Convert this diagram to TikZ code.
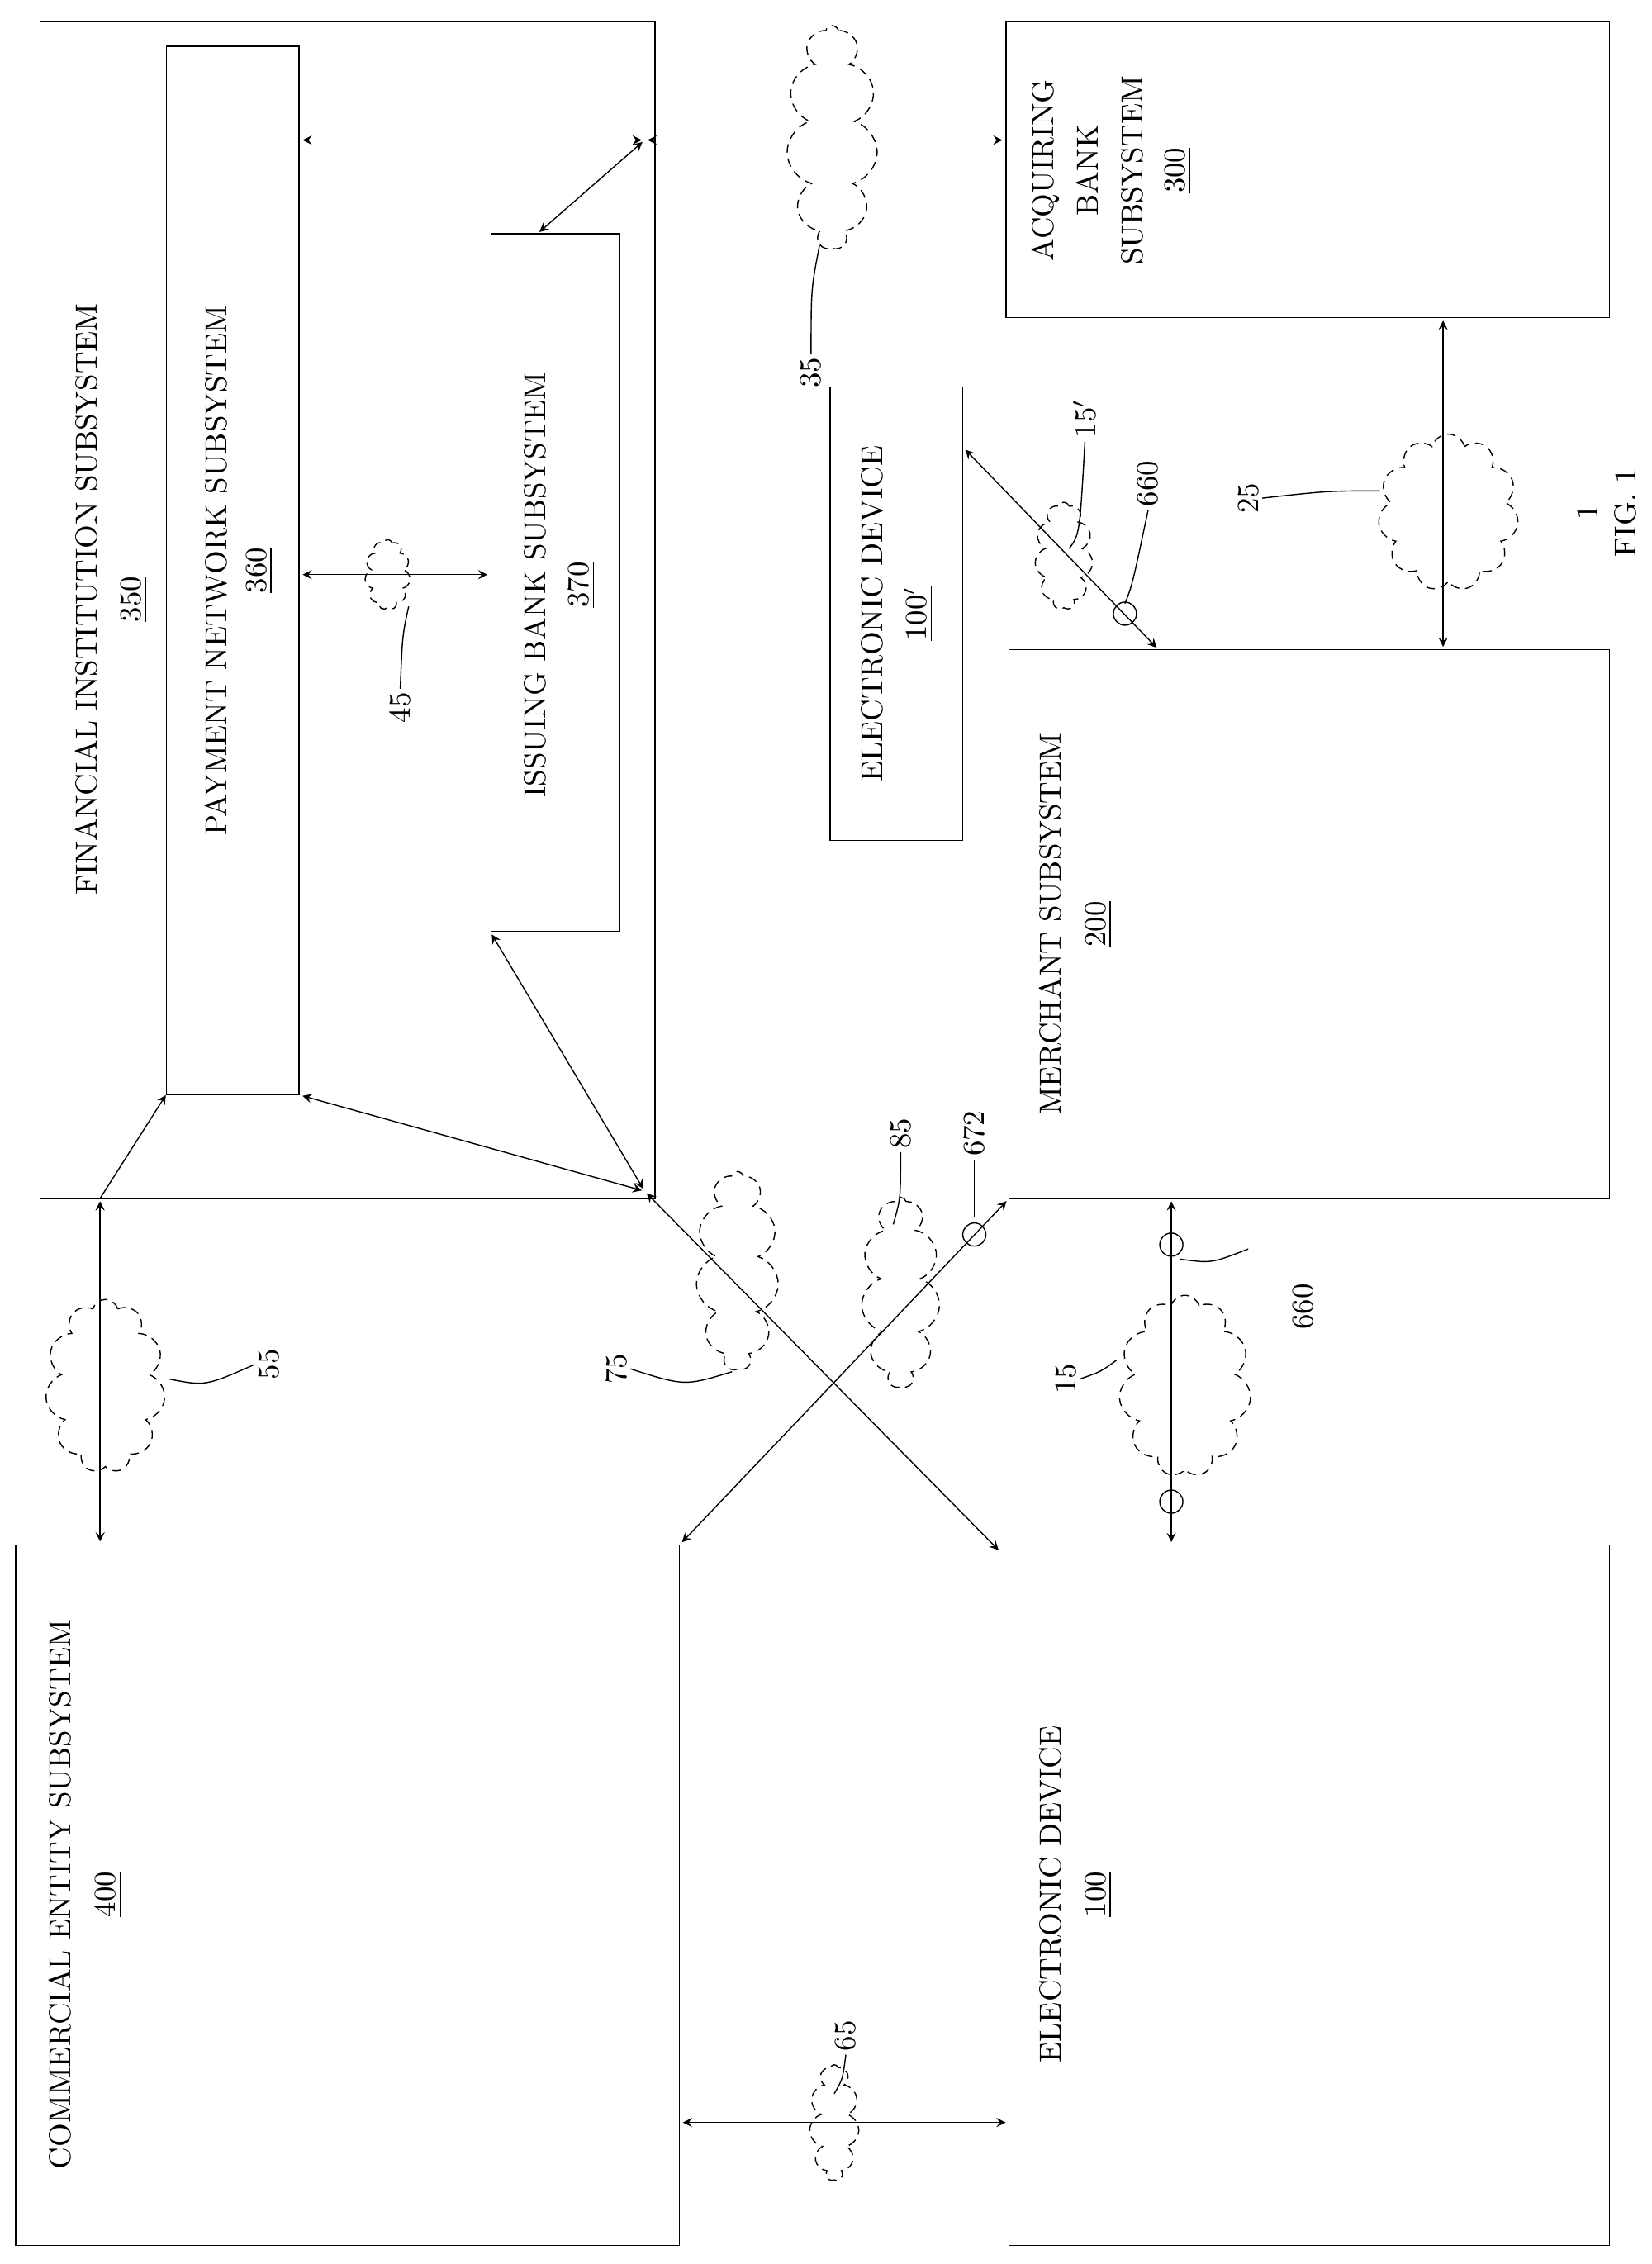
\documentclass[tikz,border=0pt]{standalone}
\usepackage{tikz}
\usetikzlibrary{fit,shapes.symbols}

\begin{document}
\begin{tikzpicture}[>=stealth, x=0.012761cm, y=-0.017481cm,
	box/.style={draw, thin, inner sep=0pt},
	txt/.style={rotate=90, font=\fontsize{10.5}{12}\selectfont},
	lbl/.style={rotate=90, font=\fontsize{10.5}{12}\selectfont, inner sep=1pt},
	link/.style={<->, thin, shorten >=1pt, shorten <=1pt},
	net/.style={cloud, cloud puffs=11, draw, densely dashed, thin, inner sep=0pt, aspect=0.5},
	ring/.style={circle, draw, thin, minimum size=0.28cm, inner sep=0pt}]
	\useasboundingbox (0,0) rectangle (1568,1568);

	% boxes
	\node[box, fit={(38,15)(622,830)}] (fi) {};
	\node[box, fit={(158,32)(284,758)}] (pn) {};
	\node[box, fit={(466,162)(588,645)}] (ib) {};
	\node[box, fit={(955,15)(1528,220)}] (acq) {};
	\node[box, fit={(788,268)(914,582)}] (edp) {};
	\node[box, fit={(958,450)(1528,830)}] (mer) {};
	\node[box, fit={(15,1070)(645,1555)}] (ce) {};
	\node[box, fit={(958,1070)(1528,1555)}] (ed) {};

	% box texts
	\node[txt] (t-fi) at (82,415) {FINANCIAL INSTITUTION SUBSYSTEM};
	\node[txt] (n-fi) at (127,415) {\underline{350}};
	\node[txt] (t-pn) at (205,395) {PAYMENT NETWORK SUBSYSTEM};
	\node[txt] (n-pn) at (246,395) {\underline{360}};
	\node[txt] (t-ib) at (508,405) {ISSUING BANK SUBSYSTEM};
	\node[txt] (n-ib) at (552,405) {\underline{370}};
	\node[txt] (t-acq1) at (993,118) {ACQUIRING};
	\node[txt] (t-acq2) at (1032,118) {BANK};
	\node[txt] (t-acq3) at (1075,118) {SUBSYSTEM};
	\node[txt] (n-acq) at (1118,118) {\underline{300}};
	\node[txt] (t-edp) at (828,425) {ELECTRONIC DEVICE};
	\node[txt] (n-edp) at (872,425) {\underline{100$'$}};
	\node[txt] (t-mer) at (997,640) {MERCHANT SUBSYSTEM};
	\node[txt] (n-mer) at (1043,640) {\underline{200}};
	\node[txt] (t-ce) at (57,1312) {COMMERCIAL ENTITY SUBSYSTEM};
	\node[txt] (n-ce) at (103,1312) {\underline{400}};
	\node[txt] (t-ed) at (997,1312) {ELECTRONIC DEVICE};
	\node[txt] (n-ed) at (1043,1312) {\underline{100}};

	% hubs
	\coordinate (h1) at (612,97);
	\coordinate (h2) at (612,825);
	\coordinate (h3) at (95,830);

	% clouds
	\node[net, minimum width=1.1cm, minimum height=2.7cm] (c35) at (790,95) {};
	\node[net, minimum width=0.55cm, minimum height=0.85cm] (c45) at (368,398) {};
	\node[net, minimum width=1.45cm, minimum height=2.1cm] (c55) at (100,960) {};
	\node[net, minimum width=1.0cm, minimum height=2.4cm] (c75) at (700,880) {};
	\node[net, minimum width=0.95cm, minimum height=2.3cm] (c85) at (855,895) {};
	\node[net, minimum width=1.6cm, minimum height=2.2cm] (c15) at (1125,960) {};
	\node[net, minimum width=1.7cm, minimum height=1.9cm] (c25) at (1375,355) {};
	\node[net, minimum width=0.7cm, minimum height=1.3cm] (c15p) at (1010,385) {};
	\node[net, minimum width=0.6cm, minimum height=1.4cm] (c65) at (792,1470) {};

	% connectors
	\draw[link] (pn.east |- h1) -- (h1);
	\draw[link] (h1) -- (acq.west |- h1);
	\draw[link] (h1) -- (510,162);
	\draw[link] (pn.east |- c45) -- (ib.west |- c45);
	\draw[link] (h3) -- (h3 |- ce.north);
	\draw[<-, thin] (pn.south west) -- (h3);
	\draw[link] (pn.south east) -- (h2);
	\draw[link] (ib.south west) -- (h2);
	\draw[link] (h2) -- (950,1075);
	\draw[link] (mer.south west) -- (ce.north east);
	\draw[link] (1112,830) -- (1112,1070);
	\draw[link] (1370,220) -- (1370,450);
	\draw[link] (edp.east |- 0,310) -- (1100,450);
	\draw[link] (ce.east |- c65) -- (ed.west |- c65);

	% rings
	\node[ring] (r672) at (925,855) {};
	\node[ring] (r660a) at (1112,862) {};
	\node[ring] (r660b) at (1112,1040) {};
	\node[ring] (r660c) at (1068,425) {};

	% reference labels
	\node[lbl] (l35) at (770,258) {35};
	\node[lbl] (l45) at (380,490) {45};
	\node[lbl] (l55) at (255,945) {55};
	\node[lbl] (l75) at (585,948) {75};
	\node[lbl] (l85) at (855,785) {85};
	\node[lbl] (l672) at (925,785) {672};
	\node[lbl] (l15) at (1012,955) {15};
	\node[lbl] (l660) at (1237,905) {660};
	\node[lbl] (l25) at (1185,345) {25};
	\node[lbl] (l15p) at (1030,290) {15$'$};
	\node[lbl] (l660p) at (1090,335) {660};
	\node[lbl] (l65) at (803,1410) {65};
	\node[lbl] (l1) at (1510,355) {\underline{1}};
	\node[lbl] (lfig) at (1543,355) {FIG. 1};

	% leaders
	\draw[thin] (l35.east) .. controls (770,200) .. (778,170);
	\draw[thin] (l45.east) .. controls (382,440) .. (388,420);
	\draw[thin] (l55.north) .. controls (195,960) .. (160,955);
	\draw[thin] (l75.south) .. controls (650,960) .. (695,950);
	\draw[thin] (l85.west) .. controls (855,830) .. (848,848);
	\draw[thin] (l672.west) .. controls (925,830) .. (925,843);
	\draw[thin] (l15.south) .. controls (1045,950) .. (1060,942);
	\draw[thin] (1185,865) .. controls (1150,875) .. (1120,872);
	\draw[thin] (l25.south) .. controls (1260,340) .. (1310,340);
	\draw[thin] (l15p.west) .. controls (1025,370) .. (1015,380);
	\draw[thin] (l660p.west) .. controls (1075,405) .. (1068,418);
	\draw[thin] (l65.west) .. controls (800,1440) .. (792,1450);
\end{tikzpicture}
\end{document}
